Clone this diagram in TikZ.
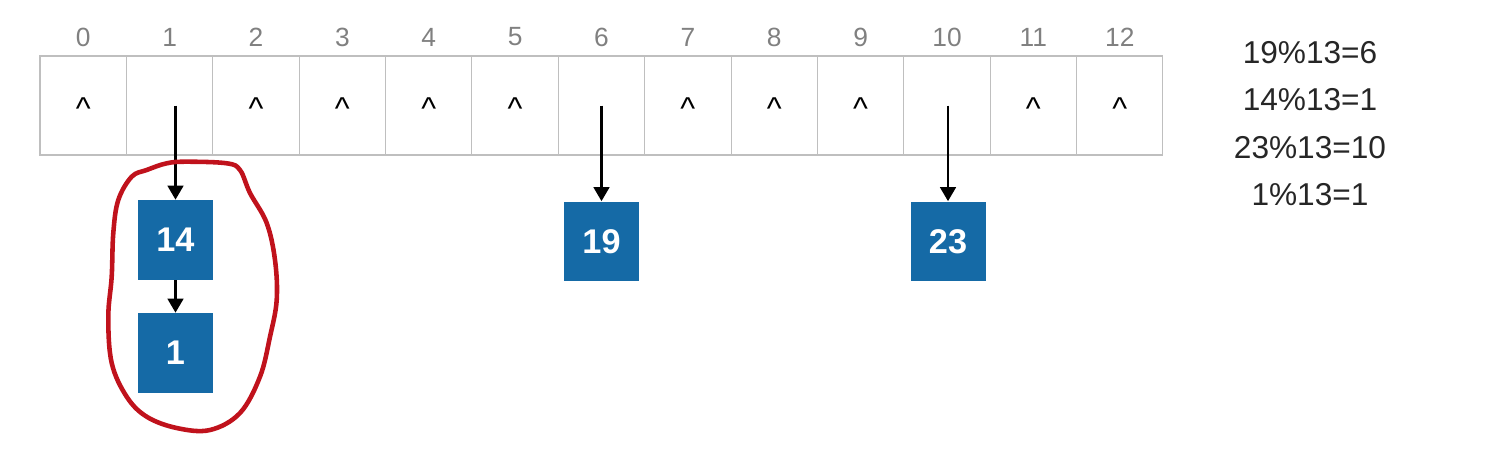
\documentclass[tikz,border=0pt]{standalone}
\usepackage{fontspec}
\setmainfont{Liberation Sans}
\usetikzlibrary{arrows.meta}
\definecolor{boxblue}{HTML}{156AA6}
\definecolor{ringred}{HTML}{C0121C}

\begin{document}
\begin{tikzpicture}[x=0.02cm,y=-0.02cm,
	cell/.style={draw=black!25,line width=0.6pt,minimum width=1.7277cm,minimum height=1.98cm,inner sep=0,outer sep=0},
	idx/.style={text=black!50,font=\fontsize{15}{17}\selectfont},
	caret/.style={inner sep=0,anchor=north,font=\fontsize{18}{20}\selectfont},
	entry/.style={fill=boxblue,text=white,font=\bfseries\fontsize{19.5}{22}\selectfont,minimum width=1.5cm,minimum height=1.6cm,inner sep=0},
	link/.style={-{Triangle[width=9pt,length=8pt]},line width=1.3pt},
	calc/.style={text=black!85,font=\fontsize{18}{20}\selectfont},
	ring/.style={draw=ringred,line width=2.6pt}]
	\useasboundingbox (0,0) rectangle (1494,457);
	% hash table slots
	\foreach \i in {0,...,12}
	{
		\node[cell] (c\i) at ({83.2+86.38*\i},105.5) {};
		\node[idx] (n\i) at ({83.2+86.38*\i},37) {\i};
	}
	\foreach \i in {0,2,3,4,5,7,8,9,11,12}
		\node[caret] (a\i) at ({83.2+86.38*\i},97) {\textasciicircum};
	% chained entries
	\node[entry] (k14) at (175.5,240) {14};
	\node[entry] (k1) at (175.5,353) {1};
	\node[entry] (k19) at (601.5,241.5) {19};
	\node[entry] (k23) at (948,241.5) {23};
	\draw[link] (c1.center -| k14.north) -- (k14.north);
	\draw[link] (k14.south) -- (k1.north);
	\draw[link] (c6.center -| k19.north) -- (k19.north);
	\draw[link] (c10.center -| k23.north) -- (k23.north);
	% remainders
	\node[calc] (r1) at (1310,53) {19\%13=6};
	\node[calc] (r2) at (1310,100) {14\%13=1};
	\node[calc] (r3) at (1310,148) {23\%13=10};
	\node[calc] (r4) at (1310,195) {1\%13=1};
	% collision ring
	\draw[ring] plot[smooth cycle,tension=0.6] coordinates {(166.7,163.3) (186.7,161.7) (226.7,163.3) (240,170) (250,193) (266.7,223) (275,260) (276.7,300) (270,336.7) (260,376.7) (240,413) (210,430) (176.7,428) (146.7,416.7) (126.7,396.7) (111.7,363) (108.3,316.7) (111.7,276.7) (113.3,233) (118.3,200) (131.7,176.7) (146.7,170)};
\end{tikzpicture}
\end{document}
